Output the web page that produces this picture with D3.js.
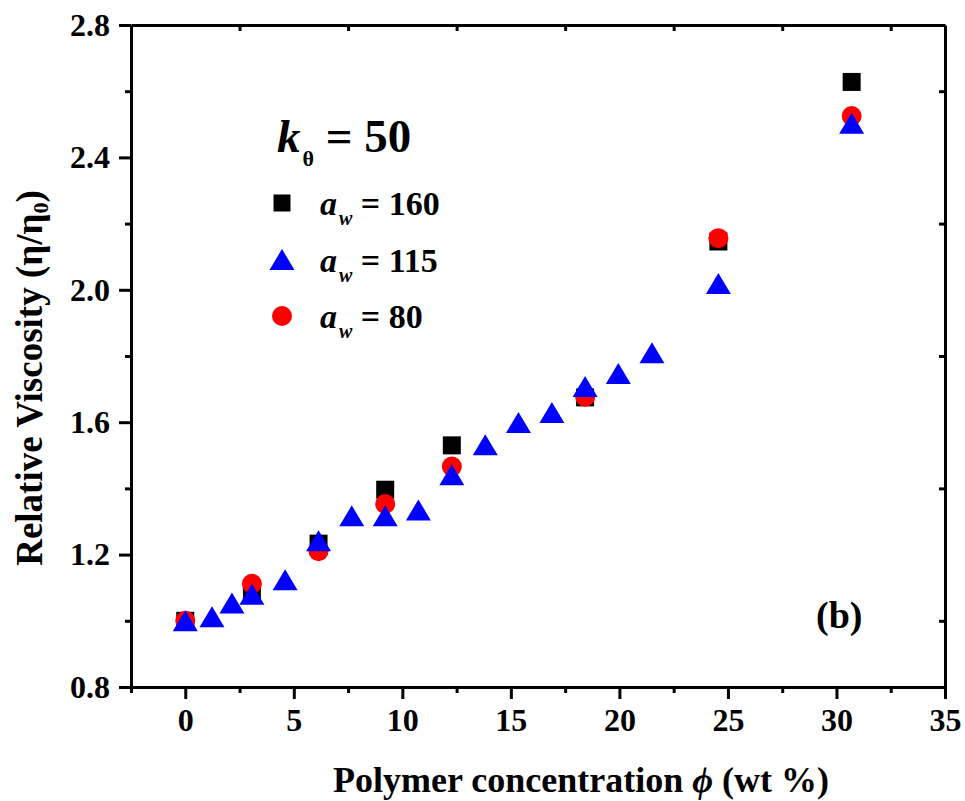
<!DOCTYPE html>
<html>
<head>
<meta charset="utf-8">
<script src="https://cdn.jsdelivr.net/npm/d3@7"></script>
</head>
<body style="margin:0">
<script>
// 数据
const xAw160 = [0, 3.07, 6.14, 9.21, 12.28, 18.42, 24.56, 30.7];
const yAw160 = [1.0, 1.085, 1.233, 1.396, 1.53, 1.675, 2.146, 2.628];

const xAw80 = [0, 3.07, 6.14, 9.21, 12.28, 18.42, 24.56, 30.7];
const yAw80 = [1.0, 1.112, 1.21, 1.353, 1.466, 1.677, 2.156, 2.525];

const xAw115 = [0, 1.23, 2.15, 3.07, 4.6, 6.14, 7.67, 9.21, 10.74, 12.28, 13.82, 15.35, 16.89, 18.42, 19.95, 21.5, 24.56, 30.7];
const yAw115 = [1.0, 1.012, 1.054, 1.08, 1.124, 1.242, 1.317, 1.317, 1.335, 1.441, 1.532, 1.599, 1.629, 1.708, 1.747, 1.81, 2.019, 2.503];

const xTicks = [0, 5, 10, 15, 20, 25, 30, 35];
const yTicks = [0.8, 1.2, 1.6, 2.0, 2.4, 2.8];

const width = 965, height = 801;
const margin = { top: 25, right: 20, bottom: 114, left: 131 };
const serif = '"Liberation Serif", "Times New Roman", serif';

const x = d3.scaleLinear().domain([-2.5, 35]).range([margin.left, width - margin.right]);
const y = d3.scaleLinear().domain([0.8, 2.8]).range([height - margin.bottom, margin.top]);

const svg = d3.select('body').append('svg')
    .attr('width', width)
    .attr('height', height);

const chart = svg.append('g').attr('class', 'chart');

// 坐标轴
chart.append('g').attr('transform', `translate(0,${y(0.8)})`)
    .call(d3.axisBottom(x).tickValues(xTicks).tickSize(12).tickSizeOuter(0).tickPadding(9).tickFormat(d3.format('d')));
chart.append('g').attr('transform', `translate(0,${y(0.8)})`)
    .call(d3.axisBottom(x).tickValues([-2.5, 2.5, 7.5, 12.5, 17.5, 22.5, 27.5, 32.5]).tickSize(6).tickSizeOuter(0).tickFormat(''));
chart.append('g').attr('transform', `translate(${x(-2.5)},0)`)
    .call(d3.axisLeft(y).tickValues(yTicks).tickSize(12).tickSizeOuter(0).tickPadding(9).tickFormat(d3.format('.1f')));
chart.append('g').attr('transform', `translate(${x(-2.5)},0)`)
    .call(d3.axisLeft(y).tickValues([1.0, 1.4, 1.8, 2.2, 2.6]).tickSize(6).tickSizeOuter(0).tickFormat(''));
chart.append('g').attr('transform', `translate(0,${y(2.8)})`)
    .call(d3.axisTop(x).tickValues([2.5, 7.5, 12.5, 17.5, 22.5, 27.5, 32.5]).tickSize(-6).tickSizeOuter(0).tickFormat(''));
chart.append('g').attr('transform', `translate(${x(35)},0)`)
    .call(d3.axisRight(y).tickValues([1.0, 1.4, 1.8, 2.2, 2.6]).tickSize(-6).tickSizeOuter(0).tickFormat(''));

chart.selectAll('g').attr('font-family', null).attr('font-size', null);
chart.selectAll('.domain').attr('stroke', '#000').attr('stroke-width', 3);
chart.selectAll('.tick line').attr('stroke', '#000').attr('stroke-width', 3);
chart.selectAll('.tick text').style('font-size', '32px').attr('fill', '#000');

// 轴标题
svg.append('text')
    .attr('x', 581).attr('y', 792)
    .attr('text-anchor', 'middle')
    .style('font-size', '36px')
    .call(t => t.append('tspan').text('Polymer concentration '))
    .call(t => t.append('tspan').style('font-style', 'italic').text('ϕ'))
    .call(t => t.append('tspan').text(' (wt %)'));

svg.append('text')
    .attr('transform', 'translate(42,378) rotate(-90)')
    .attr('text-anchor', 'middle')
    .style('font-size', '37px')
    .call(t => t.append('tspan').text('Relative Viscosity (η/η'))
    .call(t => t.append('tspan').style('font-size', '22px').attr('dy', 6).text('0'))
    .call(t => t.append('tspan').attr('dy', -6).text(')'));

// 符号
const sq = 18, cr = 10, triW = 25, triH = 21;
const squarePath = `M${-sq / 2},${-sq / 2}h${sq}v${sq}h${-sq}Z`;
const trianglePath = `M0,${-triH / 2}L${triW / 2},${triH / 2}L${-triW / 2},${triH / 2}Z`;

const data160 = xAw160.map((v, i) => ({ x: v, y: yAw160[i] }));
const data80 = xAw80.map((v, i) => ({ x: v, y: yAw80[i] }));
const data115 = xAw115.map((v, i) => ({ x: v, y: yAw115[i] }));

chart.append('g').selectAll('path').data(data160).join('path')
    .attr('d', squarePath)
    .attr('transform', d => `translate(${x(d.x)},${y(d.y)})`)
    .attr('fill', '#000');

chart.append('g').selectAll('circle').data(data80).join('circle')
    .attr('cx', d => x(d.x))
    .attr('cy', d => y(d.y))
    .attr('r', cr)
    .attr('fill', '#ff0000');

chart.append('g').selectAll('path').data(data115).join('path')
    .attr('d', trianglePath)
    .attr('transform', d => `translate(${x(d.x)},${y(d.y)})`)
    .attr('fill', '#0000ff');

// 图例
const legend = svg.append('g').attr('class', 'legend');
legend.append('text').attr('x', 277).attr('y', 152).style('font-size', '47px')
    .call(t => t.append('tspan').style('font-style', 'italic').text('k'))
    .call(t => t.append('tspan').style('font-size', '22px').attr('dy', 14).attr('dx', 2).text('θ'))
    .call(t => t.append('tspan').attr('dy', -14).text(' = 50'));

const legendItems = [
    { label: '160', shape: 'square', color: '#000' },
    { label: '115', shape: 'triangle', color: '#0000ff' },
    { label: '80', shape: 'circle', color: '#ff0000' }
];
const item = legend.selectAll('g.item').data(legendItems).join('g')
    .attr('class', 'item')
    .attr('transform', (d, i) => `translate(282,${203 + i * 56.5})`);
item.filter(d => d.shape === 'square').append('path').attr('d', `M-8.5,-8.5h17v17h-17Z`).attr('fill', d => d.color);
item.filter(d => d.shape === 'triangle').append('path').attr('d', trianglePath).attr('fill', d => d.color);
item.filter(d => d.shape === 'circle').append('circle').attr('r', cr).attr('fill', d => d.color);
item.append('text').attr('x', 38).attr('y', 12).style('font-size', '34px')
    .call(t => t.append('tspan').style('font-style', 'italic').text('a'))
    .call(t => t.append('tspan').style('font-style', 'italic').style('font-size', '20px').attr('dy', 10).attr('dx', 2).text('w'))
    .call(t => t.append('tspan').attr('dy', -10).text(d => ' = ' + d.label));

svg.append('text').attr('x', 816).attr('y', 628).style('font-size', '38px').text('(b)');

// 字体统一用衬线体
svg.selectAll('text')
    .style('font-family', serif)
    .attr('font-weight', 'bold')
    .attr('fill', '#000');
</script>
</body>
</html>
